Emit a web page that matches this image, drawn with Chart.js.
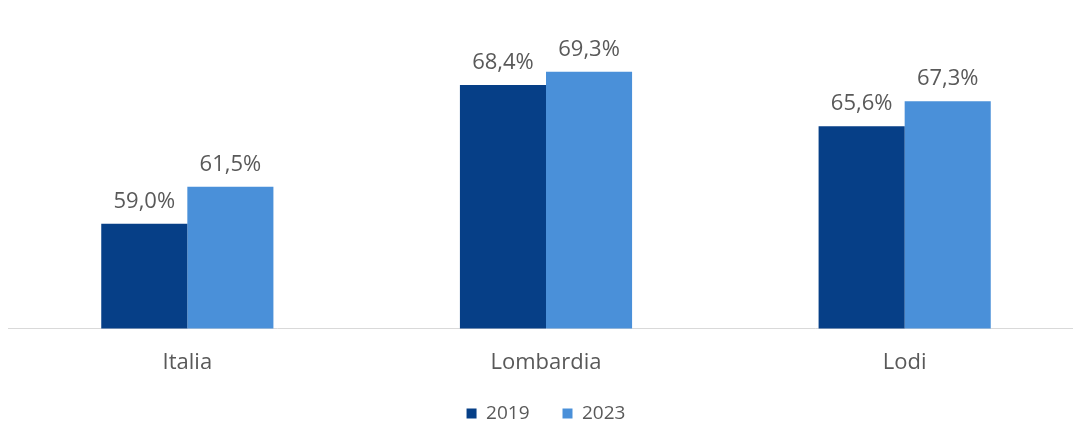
<!DOCTYPE html>
<html>
<head>
<meta charset="utf-8">
<script src="https://cdn.jsdelivr.net/npm/chart.js@4/dist/chart.umd.min.js"></script>
<style>
  html, body { margin: 0; padding: 0; background: #fff; overflow: hidden; }
  #wrap { position: relative; width: 1092px; height: 433px; }
</style>
</head>
<body>
<div id="wrap"><canvas id="c"></canvas></div>
<script>
const categories = ['Italia', 'Lombardia', 'Lodi'];
const seriesNames = ['2019', '2023'];
const values2019 = [59.0, 68.4, 65.6];
const values2023 = [61.5, 69.3, 67.3];

const FONT = '"Open Sans", sans-serif';
const TEXT = '#595959';

const fmt = v => v.toFixed(1).replace('.', ',') + '%';

// Value labels drawn above each bar
const valueLabels = {
  id: 'valueLabels',
  afterDatasetsDraw(chart) {
    const ctx = chart.ctx;
    ctx.save();
    ctx.font = '22px ' + FONT;
    ctx.fillStyle = TEXT;
    ctx.textAlign = 'center';
    ctx.textBaseline = 'alphabetic';
    chart.data.datasets.forEach((ds, i) => {
      chart.getDatasetMeta(i).data.forEach((bar, j) => {
        ctx.fillText(fmt(ds.data[j]), bar.x, bar.y - 16);
      });
    });
    ctx.restore();
  }
};

new Chart(document.getElementById('c'), {
  type: 'bar',
  data: {
    labels: categories,
    datasets: [
      { label: seriesNames[0], data: values2019, backgroundColor: '#063f87' },
      { label: seriesNames[1], data: values2023, backgroundColor: '#4a90d9' }
    ]
  },
  options: {
    responsive: true,
    maintainAspectRatio: false,
    animation: false,
    layout: { padding: { left: 8, right: 8, top: 0, bottom: 0 } },
    datasets: { bar: { barPercentage: 1, categoryPercentage: 0.48 } },
    scales: {
      x: {
        grid: { display: false },
        border: { color: '#d9d9d9', width: 1 },
        ticks: { color: TEXT, font: { family: FONT, size: 22 }, padding: 13 },
        afterFit(scale) { scale.height -= 18; }
      },
      y: { display: false, min: 51.9, max: 74.15 }
    },
    plugins: {
      legend: {
        position: 'bottom',
        labels: {
          color: TEXT,
          font: { family: FONT, size: 19 },
          boxWidth: 10, boxHeight: 10, padding: 33
        }
      },
      tooltip: { enabled: false }
    }
  },
  plugins: [valueLabels]
});
</script>
</body>
</html>
